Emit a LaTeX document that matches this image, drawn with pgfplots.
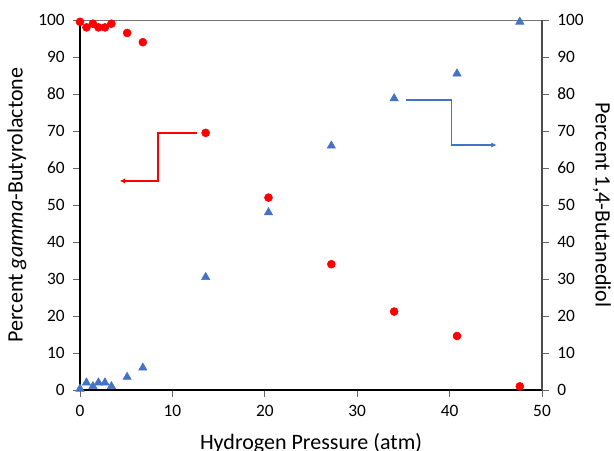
\documentclass[border=0pt]{standalone}
\usepackage{pgfplots}
\pgfplotsset{compat=1.18}
\usetikzlibrary{arrows.meta}
\usepackage{fontspec}
\setmainfont{Carlito}
\definecolor{xlblue}{HTML}{4472C4}
\definecolor{xlred}{HTML}{FF0000}

\begin{document}
\begin{tikzpicture}
\pgfplotsset{
  every axis/.append style={
    scale only axis, width=346.5pt, height=277.5pt,
    xmin=0, xmax=50, ymin=0, ymax=100,
    ytick={0,10,...,100},
    tick label style={font=\fontsize{13}{15}\selectfont},
    label style={font=\fontsize{16.5}{19}\selectfont},
    /pgf/number format/assume math mode=true,
    tick align=outside, major tick length=5pt,
    tick style={black!60, line width=0.6pt},
  }
}
\begin{axis}[
  axis y line*=left, axis x line*=bottom,
  xtick={0,10,...,50},
  xlabel={Hydrogen Pressure (atm)},
  ylabel={Percent \textit{gamma}-Butyrolactone},
  xlabel style={yshift=-6pt},
  ylabel style={yshift=2pt},
  yticklabel style={xshift=-3pt},
  xticklabel style={yshift=-3pt},
  axis line style={black, line width=0.8pt},
  clip=false,
]
\draw[black!55, line width=0.6pt] (axis cs:0,100) -- (axis cs:50,100);
\addplot[only marks, mark=*, mark size=3pt, color=xlred] coordinates {
  (0,99.5) (0.7,98) (1.4,99) (2,98) (2.7,98) (3.4,99)
  (5.1,96.5) (6.8,94) (13.6,69.5) (20.4,52) (27.2,34)
  (34,21.2) (40.8,14.6) (47.6,1)
};
\draw[xlred, line width=1pt, -{Latex[length=4pt,width=4pt]}]
  (axis cs:12.65,69.5) -- (axis cs:8.45,69.5) -- (axis cs:8.45,56.5) -- (axis cs:4.3,56.5);
\end{axis}
\begin{axis}[
  axis y line*=right, axis x line=none,
  ylabel={Percent 1,4-Butanediol},
  ylabel style={rotate=180, yshift=0pt},
  yticklabel style={xshift=3pt},
  axis line style={black!70, line width=0.8pt},
  clip=false,
]
\addplot[only marks, mark=triangle*, mark size=3.6pt, color=xlblue] coordinates {
  (0,0.3) (0.7,2) (1.4,1) (2,2) (2.7,2) (3.4,1)
  (5.1,3.5) (6.8,6) (13.6,30.5) (20.4,48) (27.2,66)
  (34,78.8) (40.8,85.5) (47.6,99.5)
};
\draw[xlblue, line width=1pt, -{Latex[length=4pt,width=4pt]}]
  (axis cs:35.3,78.4) -- (axis cs:40.2,78.4) -- (axis cs:40.2,66.2) -- (axis cs:45.1,66.2);
\end{axis}
\pgfresetboundingbox
\path[use as bounding box]
  ([shift={(-60pt,-45pt)}]current axis.south west) rectangle
  ([shift={(54pt,15pt)}]current axis.north east);
\end{tikzpicture}
\end{document}
